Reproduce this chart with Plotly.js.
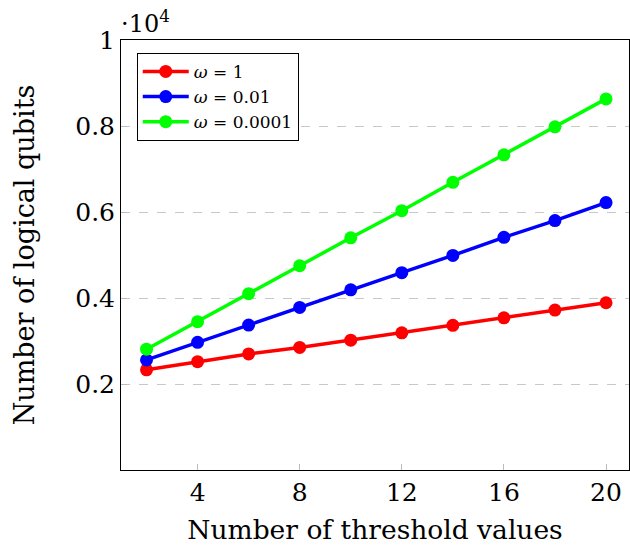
<!DOCTYPE html>
<html>
<head>
<meta charset="utf-8">
<script src="https://cdn.plot.ly/plotly-3.0.1.min.js"></script>
<style>html,body{margin:0;padding:0;background:#fff;}#chart{width:630px;height:551px;}</style>
</head>
<body>
<div id="chart"></div>
<script>
const thresholds = [2, 4, 6, 8, 10, 12, 14, 16, 18, 20];
const qubitsOmega1 = [2330, 2520, 2700, 2850, 3020, 3190, 3365, 3540, 3720, 3890];
const qubitsOmega001 = [2560, 2970, 3370, 3780, 4190, 4590, 4990, 5410, 5800, 6220];
const qubitsOmega00001 = [2810, 3450, 4100, 4750, 5400, 6030, 6690, 7330, 7980, 8630];
const seriesNames = ['<i>ω</i> = 1', '<i>ω</i> = 0.01', '<i>ω</i> = 0.0001'];
const xTickVals = [4, 8, 12, 16, 20];
const yTickVals = [2000, 4000, 6000, 8000, 10000];
const yTickText = ['0.2', '0.4', '0.6', '0.8', '1'];

const colors = ['#ff0000', '#0000ff', '#00ff00'];
const serif = 'DejaVu Serif, Liberation Serif, serif';

const traces = [qubitsOmega1, qubitsOmega001, qubitsOmega00001].map((ys, i) => ({
  x: thresholds, y: ys, name: seriesNames[i], type: 'scatter', mode: 'lines+markers',
  line: {color: colors[i], width: 3.5},
  marker: {color: colors[i], size: 13}
}));

const layout = {
  width: 630, height: 551,
  margin: {l: 121, r: 1, t: 40, b: 81},
  paper_bgcolor: '#fff', plot_bgcolor: '#fff',
  font: {family: serif, color: '#000', size: 25},
  showlegend: true,
  legend: {
    x: 0.031, y: 0.97, xanchor: 'left', yanchor: 'top',
    bordercolor: '#000', borderwidth: 1, bgcolor: '#fff',
    font: {family: serif, size: 17, color: '#000'},
    itemwidth: 46, tracegroupgap: 0
  },
  xaxis: {
    range: [1, 20.9], tickvals: xTickVals, ticktext: xTickVals.map(String),
    showgrid: false, zeroline: false,
    showline: true, linecolor: '#000', linewidth: 1, mirror: true,
    ticks: 'inside', ticklen: 6, tickcolor: '#bbb', tickwidth: 1,
    tickfont: {size: 25, family: serif},
    title: {text: 'Number of threshold values', font: {size: 26.5, family: serif}, standoff: 14}
  },
  yaxis: {
    range: [0, 10000], tickvals: yTickVals, ticktext: yTickText,
    showgrid: true, gridcolor: '#c8c8c8', griddash: 'dash', gridwidth: 1,
    zeroline: false,
    showline: true, linecolor: '#000', linewidth: 1, mirror: true,
    ticks: 'inside', ticklen: 6, tickcolor: '#bbb', tickwidth: 1,
    tickfont: {size: 25, family: serif},
    title: {text: 'Number of logical qubits', font: {size: 27, family: serif}, standoff: 32}
  },
  annotations: [{
    xref: 'paper', yref: 'paper', x: 0, y: 1, xanchor: 'left', yanchor: 'bottom',
    text: '·10<sup>4</sup>', showarrow: false, font: {size: 24, family: serif}, xshift: -2, yshift: 0
  }]
};

Plotly.newPlot('chart', traces, layout, {displayModeBar: false, staticPlot: true});
</script>
</body>
</html>
